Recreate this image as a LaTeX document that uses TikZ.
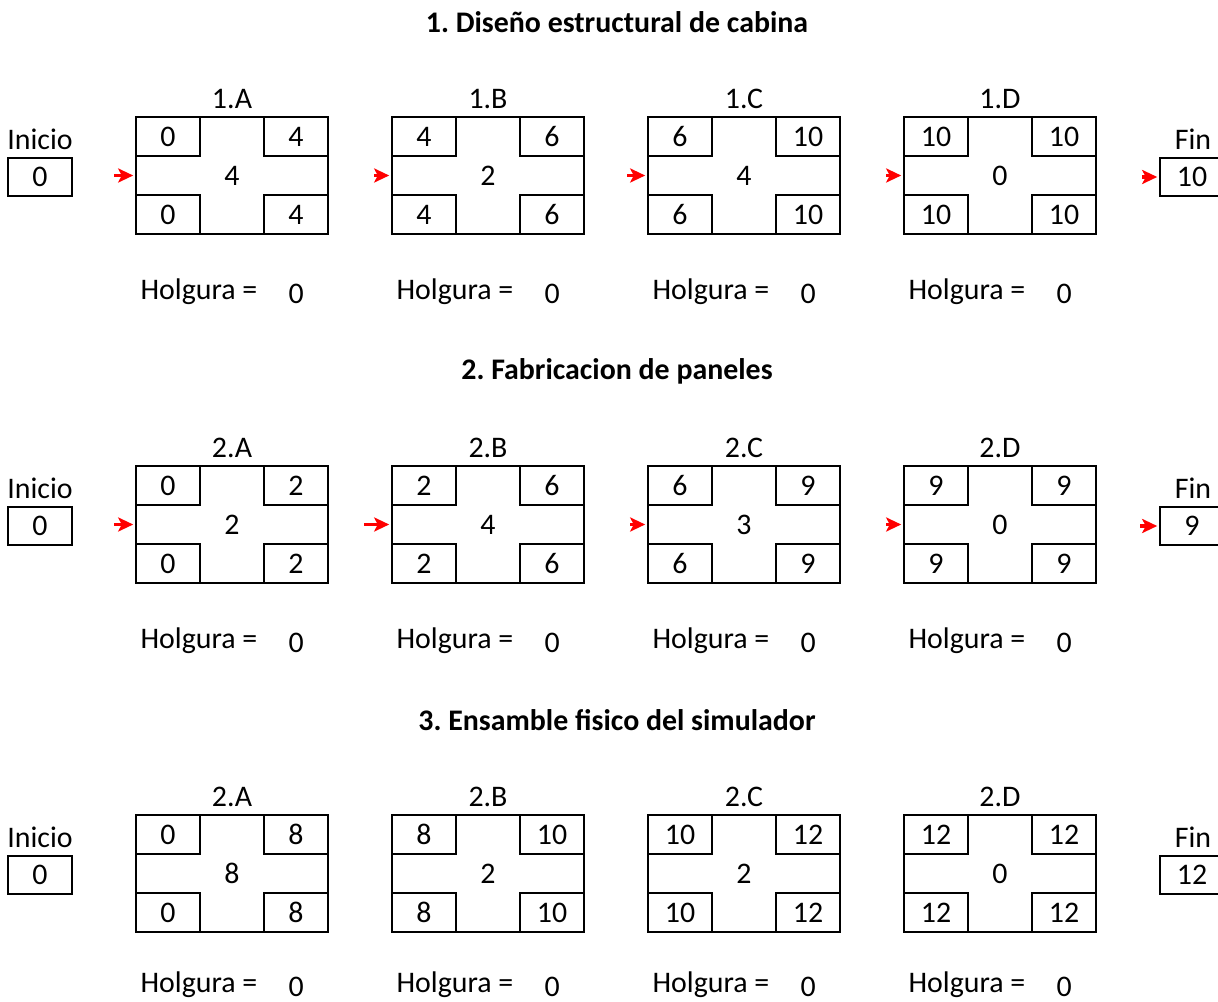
\documentclass[tikz,border=0pt]{standalone}
\usepackage{fontspec}
\setmainfont{Carlito}
\usetikzlibrary{arrows.meta,calc}
\frenchspacing

\begin{document}
\begin{tikzpicture}[
        font=\fontsize{17}{20}\selectfont,
        >={Stealth[length=0.3cm,width=0.28cm,inset=0.07cm]},
        act/.style={draw, line width=0.9pt, minimum width=3.84cm, minimum height=2.34cm, inner sep=0pt},
        celda/.style={draw, line width=0.9pt, fill=white, minimum width=1.28cm, minimum height=0.78cm, inner sep=0pt},
        extremo/.style={draw, line width=0.9pt, minimum width=1.28cm, minimum height=0.76cm, inner sep=0pt},
        titulo/.style={font=\fontsize{17}{20}\selectfont\bfseries},
        flecha/.style={->, red, line width=1.8pt, shorten >=0.04cm}
      ]
      \useasboundingbox (0,0) rectangle (24.36,-20.04);

      \node[titulo] (t1) at (12.34,-0.44) {1. Diseño estructural de cabina};
      \node[titulo] (t2) at (12.34,-7.42) {2. Fabricacion de paneles};
      \node[titulo] (t3) at (12.34,-14.40) {3. Ensamble fisico del simulador};

      % inicio y fin de cada fase
      \foreach \fil/\fin in {1/10, 2/9, 3/12} {
        \node[extremo] (ini\fil) at (0.8,{-3.54-6.98*(\fil-1)}) {0};
        \node (tini\fil) at (0.8,{-2.78-6.98*(\fil-1)}) {Inicio};
        \node[extremo] (fin\fil) at (23.84,{-3.54-6.98*(\fil-1)}) {\fin};
        \node (tfin\fil) at (23.86,{-2.78-6.98*(\fil-1)}) {Fin};
      }

      % actividades: fila/columna/nombre/IC/TC/duracion/IL/TL
      \foreach \fil/\col/\nom/\ei/\ef/\dur/\li/\lf in {
          1/1/1.A/0/4/4/0/4, 1/2/1.B/4/6/2/4/6, 1/3/1.C/6/10/4/6/10, 1/4/1.D/10/10/0/10/10,
          2/1/2.A/0/2/2/0/2, 2/2/2.B/2/6/4/2/6, 2/3/2.C/6/9/3/6/9, 2/4/2.D/9/9/0/9/9,
          3/1/2.A/0/8/8/0/8, 3/2/2.B/8/10/2/8/10, 3/3/2.C/10/12/2/10/12, 3/4/2.D/12/12/0/12/12} {
        \pgfmathsetmacro{\hy}{\fil==3 ? -2.22 : -2.33}
        \node[act] (a\fil\col) at ({4.64+5.12*(\col-1)},{-3.51-6.98*(\fil-1)}) {\dur};
        \node[celda, anchor=north west] (ei\fil\col) at (a\fil\col.north west) {\ei};
        \node[celda, anchor=north east] (ef\fil\col) at (a\fil\col.north east) {\ef};
        \node[celda, anchor=south west] (li\fil\col) at (a\fil\col.south west) {\li};
        \node[celda, anchor=south east] (lf\fil\col) at (a\fil\col.south east) {\lf};
        \node (n\fil\col) at ($(a\fil\col.north)+(0,0.34)$) {\nom};
        \node[anchor=west, inner sep=0pt] (h\fil\col) at ($(a\fil\col.west)+(0.1,\hy)$) {Holgura =};
        \node[inner sep=0pt] (hv\fil\col) at ($(a\fil\col.west)+(3.22,\hy-0.04)$) {0};
      }

      % flechas rojas
      \foreach \dest/\largo in {a11/0.42, a12/0.34, a13/0.40, a14/0.34, fin1/0.34,
                                a21/0.42, a22/0.54, a23/0.34, a24/0.34, fin2/0.38} {
        \coordinate (p\dest) at ($(\dest.west)+(-\largo,0)$);
        \draw[flecha] (p\dest) -- (\dest.west);
      }
    \end{tikzpicture}
\end{document}
